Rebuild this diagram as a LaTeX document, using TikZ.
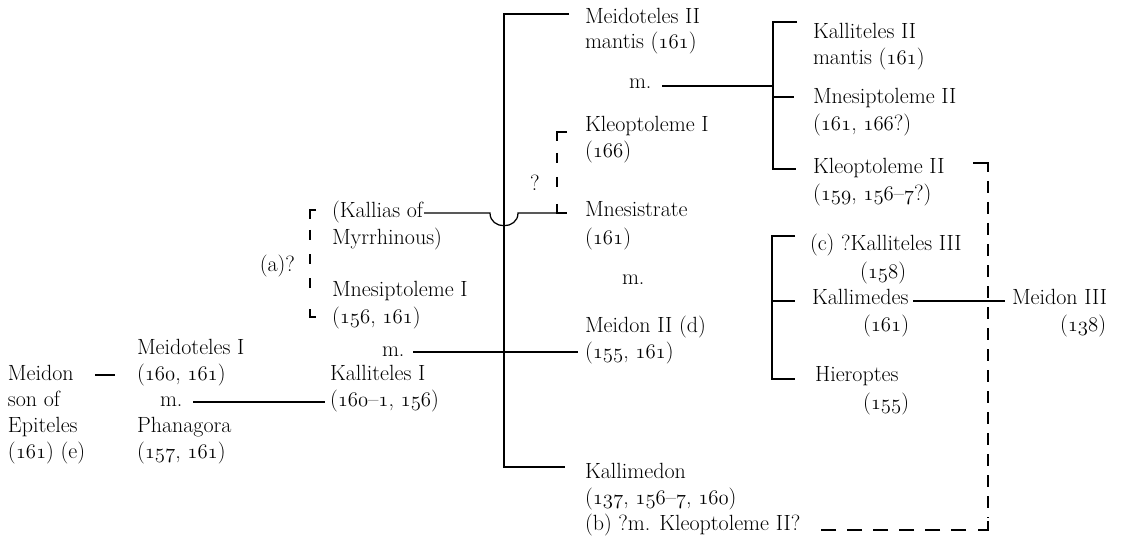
\documentclass[tikz,border=0pt]{standalone}
\usepackage{tikz}
\usetikzlibrary{calc}
\newcommand{\osn}[1]{{\usefont{OML}{lmm}{m}{it}#1}}
\begin{document}
\begin{tikzpicture}[x=1pt,y=-1pt,
  lbl/.style={font=\fontsize{22}{26}\selectfont, inner sep=0pt, outer sep=0pt, anchor=base west},
  lblr/.style={lbl, anchor=base east},
  ln/.style={line width=1.25pt},
  dv/.style={line width=1.25pt, dash pattern=on 10pt off 14pt},
  dr/.style={line width=1.25pt, dash pattern=on 12pt off 9pt},
  dh/.style={line width=1.25pt, dash pattern=on 15pt off 11pt}]

\fill[white] (0,0) rectangle (1123,537);
\useasboundingbox (0,0) rectangle (1123,537);

% ---- column A
\node[lbl] (meidon) at (8,380) {Meidon};
\node[lbl] (sonof) at (8,406) {son of};
\node[lbl] (epit) at (8,432) {Epiteles};
\node[lbl] (epitn) at (8,458) {(\osn{161}) (e)};

% ---- column B
\node[lbl] (mdt1) at (137,354) {Meidoteles I};
\node[lbl] (mdt1n) at (137,380) {(\osn{160}, \osn{161})};
\node[lbl] (mB) at (160,406) {m.};
\node[lbl] (phan) at (137,432) {Phanagora};
\node[lbl] (phann) at (137,458) {(\osn{157}, \osn{161})};

% ---- column C
\node[lblr] (qa) at (295,271) {(a)?};
\node[lbl] (kallias) at (332,218) {(Kallias of};
\node[lbl] (myrrh) at (332,244) {Myrrhinous)};
\node[lbl] (mnp1) at (332,296) {Mnesiptoleme I};
\node[lbl] (mnp1n) at (332,323) {(\osn{156}, \osn{161})};
\node[lbl] (mC) at (382,356) {m.};
\node[lbl] (kal1) at (330,380) {Kalliteles I};
\node[lbl] (kal1n) at (330,406) {(\osn{160}–\osn{1}, \osn{156})};

% ---- column D
\node[lbl] (mdt2) at (585,24) {Meidoteles II};
\node[lbl] (mdt2n) at (585,49) {mantis (\osn{161})};
\node[lbl] (mD1) at (629,89) {m.};
\node[lbl] (qb) at (530,191) {?};
\node[lbl] (klp1) at (585,132) {Kleoptoleme I};
\node[lbl] (klp1n) at (585,158) {(\osn{166})};
\node[lbl] (mnst) at (585,217) {Mnesistrate};
\node[lbl] (mnstn) at (585,244) {(\osn{161})};
\node[lbl] (mD2) at (622,284) {m.};
\node[lbl] (mdn2) at (585,332) {Meidon II (d)};
\node[lbl] (mdn2n) at (585,358) {(\osn{155}, \osn{161})};
\node[lbl] (klmd) at (585,478) {Kallimedon};
\node[lbl] (klmdn) at (585,504) {(\osn{137}, \osn{156}–\osn{7}, \osn{160})};
\node[lbl] (klmdb) at (585,530) {(b) ?m. Kleoptoleme II?};

% ---- column E (upper)
\node[lbl] (kal2) at (813,39) {Kalliteles II};
\node[lbl] (kal2n) at (813,65) {mantis (\osn{161})};
\node[lbl] (mnp2) at (813,104) {Mnesiptoleme II};
\node[lbl] (mnp2n) at (813,131) {(\osn{161}, \osn{166}?)};
\node[lbl] (klp2) at (813,174) {Kleoptoleme II};
\node[lbl] (klp2n) at (813,201) {(\osn{159}, \osn{156}–\osn{7}?)};

% ---- column E (lower)
\node[lbl] (kal3) at (810,251) {(c) ?Kalliteles III};
\node[lbl] (kal3n) at (860,278) {(\osn{158})};
\node[lbl] (klms) at (812,304) {Kallimedes};
\node[lbl] (klmsn) at (863,331) {(\osn{161})};
\node[lbl] (hier) at (815,381) {Hieroptes};
\node[lbl] (hiern) at (863,409) {(\osn{155})};

% ---- column F
\node[lbl] (mdn3) at (1012,304) {Meidon III};
\node[lbl] (mdn3n) at (1060,331) {(\osn{138})};

% ---- named line points
\coordinate (dA1) at (95,375);
\coordinate (dA2) at (115,375);
\coordinate (lB1) at (193,402);
\coordinate (lB2) at (325,402);
\coordinate (lC1) at (413,352);
\coordinate (lC2) at (578,352);
\coordinate (vtop) at (504,14);
\coordinate (vbot) at (504,467);
\coordinate (ttop) at (569,14);
\coordinate (tbot) at (565,467);
\coordinate (k1) at ($(kallias.base east)+(1,-5)$);
\coordinate (k2) at (490,213);
\coordinate (k3) at (518,213);
\coordinate (k4) at (557,213);
\coordinate (lD1) at (662,86);
\coordinate (lD2) at (773,86);
\coordinate (eT) at (773,22);
\coordinate (eB) at (773,169);
\coordinate (fT) at (772,236);
\coordinate (fM) at (772,301);
\coordinate (fB) at (772,379);
\coordinate (lK1) at ($(klms.base east)+(5,-3)$);
\coordinate (lK2) at (1005,301);

% solid connectors
\draw[ln] (dA1) -- (dA2);
\draw[ln] (lB1) -- (lB2);
\draw[ln] (ttop) -- (vtop) -- (vbot) -- (tbot);
\draw[ln] (lC1) -- (lC2);
\draw[ln] (k1) -- (k2) .. controls (490,230) and (518,230) .. (k3) -- (k4);
\draw[ln] (lD1) -- (lD2);
\draw[ln] ($(eT)+(24,0)$) -- (eT) -- (eB) -- ($(eB)+(23,0)$);
\draw[ln] (773,97) -- (794,97);
\draw[ln] ($(fT)+(23,0)$) -- (fT) -- (fB) -- ($(fB)+(23,0)$);
\draw[ln] (fM) -- ($(fM)+(23,0)$);
\draw[ln] (lK1) -- (lK2);

% dashed brackets
\draw[ln] (316,210) -- (310,210) -- (310,219);
\draw[dv] (310,230) -- (310,300);
\draw[ln] (310,309) -- (310,317) -- (316,317);

\draw[ln] (567,132) -- (557,132) -- (557,141);
\draw[dv] (557,153) -- (557,195);
\draw[ln] (557,204) -- (k4) -- (567,213);

\draw[ln] (973,163) -- (988,163) -- (988,172);
\draw[dr] (988,181) -- (988,518);
\draw[ln] (988,521) -- (988,530) -- (978,530);
\draw[dh] (966,530) -- (818,530);
\end{tikzpicture}
\end{document}
